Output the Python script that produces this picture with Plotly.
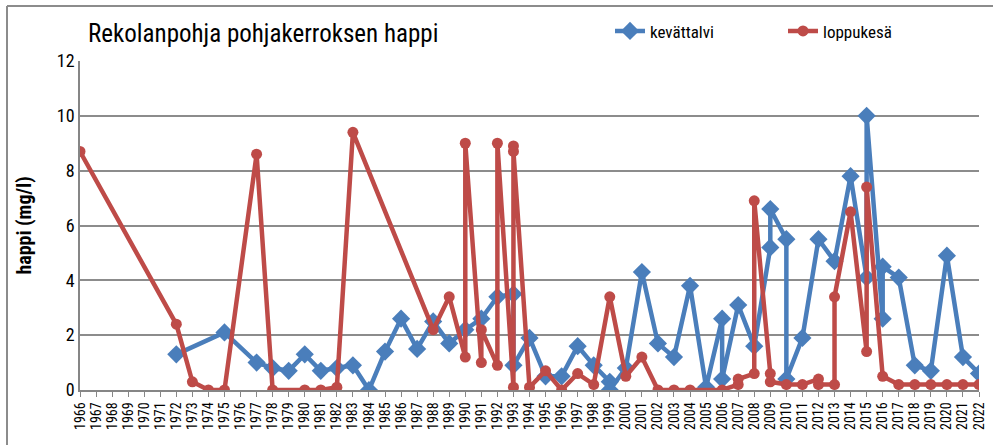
import plotly.graph_objects as go

years_kt = [1972, 1975, 1977, 1978, 1979, 1980, 1981, 1982, 1983, 1984, 1985, 1986, 1987,
            1988, 1989, 1990, 1991, 1992, 1993, 1993, 1994, 1995, 1996, 1997, 1998, 1999,
            1999, 2000, 2001, 2002, 2003, 2004, 2005, 2006, 2006, 2007, 2008, 2009, 2009,
            2010, 2010, 2011, 2012, 2013, 2014, 2015, 2015, 2016, 2016, 2017, 2018, 2019,
            2020, 2021, 2022]
happi_kt = [1.3, 2.1, 1.0, 0.8, 0.7, 1.3, 0.7, 0.8, 0.9, 0.0, 1.4, 2.6, 1.5,
            2.5, 1.7, 2.2, 2.6, 3.4, 3.5, 0.9, 1.9, 0.5, 0.5, 1.6, 0.9, 0.3,
            0.0, 0.8, 4.3, 1.7, 1.2, 3.8, 0.1, 2.6, 0.4, 3.1, 1.6, 5.2, 6.6,
            5.5, 0.4, 1.9, 5.5, 4.7, 7.8, 4.1, 10.0, 2.6, 4.5, 4.1, 0.9, 0.7,
            4.9, 1.2, 0.6]

years_lk = [1966, 1972, 1973, 1974, 1975, 1977, 1978, 1980, 1981, 1982, 1983, 1988, 1989,
            1990, 1990, 1991, 1991, 1992, 1992, 1993, 1993, 1993, 1994, 1995, 1996, 1997,
            1998, 1999, 2000, 2001, 2002, 2003, 2004, 2006, 2007, 2007, 2008, 2008, 2009,
            2009, 2010, 2011, 2012, 2012, 2013, 2013, 2014, 2015, 2015, 2016, 2017, 2018,
            2019, 2020, 2021, 2022]
happi_lk = [8.7, 2.4, 0.3, 0.0, 0.0, 8.6, 0.0, 0.0, 0.0, 0.1, 9.4, 2.2, 3.4,
            1.2, 9.0, 1.0, 2.2, 0.9, 9.0, 0.1, 8.9, 8.7, 0.1, 0.7, 0.0, 0.6,
            0.2, 3.4, 0.5, 1.2, 0.0, 0.0, 0.0, 0.0, 0.2, 0.4, 0.6, 6.9, 0.6,
            0.3, 0.2, 0.2, 0.4, 0.2, 0.2, 3.4, 6.5, 1.4, 7.4, 0.5, 0.2, 0.2,
            0.2, 0.2, 0.2, 0.2]

tick_years = list(range(1966, 2023))
y_ticks = [0, 2, 4, 6, 8, 10, 12]

NARROW = "Liberation Sans Narrow, Arial Narrow, Roboto Condensed, DejaVu Sans Condensed, sans-serif"
BLUE = "#4A7EBB"
RED = "#BE4B48"

fig = go.Figure()
fig.add_trace(go.Scatter(
    x=years_kt, y=happi_kt, name="kevättalvi", mode="lines+markers",
    line=dict(color=BLUE, width=4.5),
    marker=dict(symbol="diamond", size=14, color=BLUE),
    legend="legend",
))
fig.add_trace(go.Scatter(
    x=years_lk, y=happi_lk, name="loppukesä", mode="lines+markers",
    line=dict(color=RED, width=4.5),
    marker=dict(symbol="circle", size=11, color=RED),
    legend="legend2",
))

legend_common = dict(orientation="h", y=1.09, xanchor="left", yanchor="middle",
                     font=dict(family=NARROW, size=17, color="black"),
                     bgcolor="rgba(0,0,0,0)")
fig.update_layout(
    width=993, height=445,
    margin=dict(l=80, r=14, t=61, b=55, autoexpand=False),
    paper_bgcolor="white", plot_bgcolor="white",
    title=dict(text="Rekolanpohja pohjakerroksen happi", x=88/993, xanchor="left",
               y=1-33/445, yanchor="middle",
               font=dict(family=NARROW, size=25, color="black")),
    legend=dict(x=(610-80)/899, **legend_common),
    legend2=dict(x=(783-80)/899, **legend_common),
    showlegend=True,
    font=dict(family=NARROW, color="black"),
)
fig.update_xaxes(
    range=[1966, 2022], tickmode="array", tickvals=tick_years,
    ticktext=[str(y) for y in tick_years], tickangle=-90,
    tickfont=dict(family=NARROW, size=14, color="black"),
    showline=True, linecolor="#868686", linewidth=1.5,
    ticks="outside", ticklen=5, tickcolor="#868686",
    showgrid=False, zeroline=False, automargin=False,
)
fig.update_yaxes(
    range=[0, 12], tickvals=y_ticks,
    tickfont=dict(family=NARROW, size=18, color="black"),
    title=dict(text="<b>happi (mg/l)</b>", font=dict(family=NARROW, size=20, color="black"),
               standoff=20),
    showline=True, linecolor="#868686", linewidth=1.5,
    showgrid=True, gridcolor="#8C8C8C", gridwidth=1.5,
    zeroline=False, ticks="", automargin=False,
)
# outer chart-area border (top and left edges visible in the reference)
fig.add_shape(type="line", xref="paper", yref="paper",
              x0=(7-80)/899, x1=(993-80)/899, y0=(390-6)/329, y1=(390-6)/329,
              line=dict(color="#8C8C8C", width=2), layer="below")
fig.add_shape(type="line", xref="paper", yref="paper",
              x0=(7-80)/899, x1=(7-80)/899, y0=(390-445)/329, y1=(390-6)/329,
              line=dict(color="#8C8C8C", width=2), layer="below")
fig.write_html("out.html", config={"displayModeBar": False},
               post_script="document.body.style.margin='0';")
